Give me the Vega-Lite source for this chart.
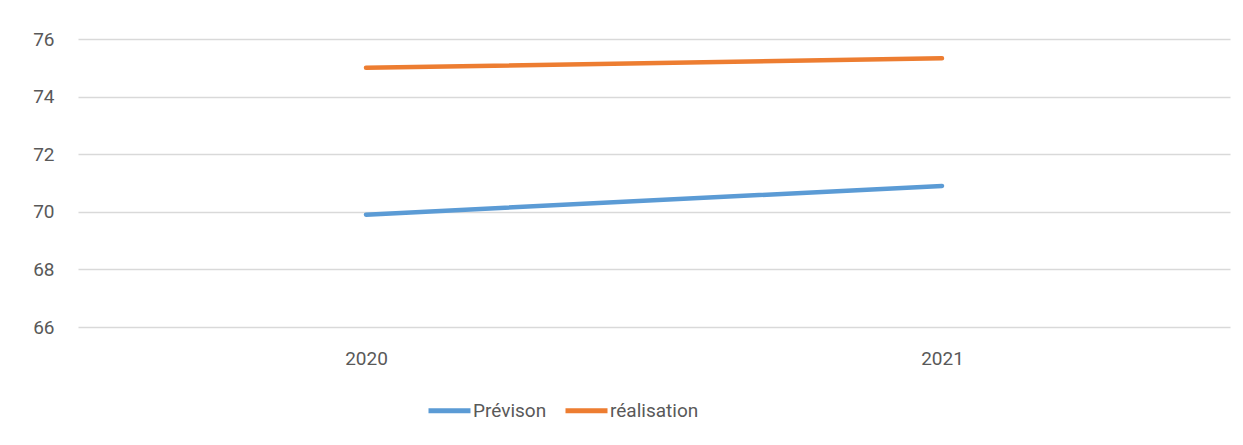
{
  "$schema": "https://vega.github.io/schema/vega-lite/v6.json",
  "autosize": "none",
  "width": 1152,
  "height": 288,
  "padding": {"left": 78, "top": 39, "right": 13, "bottom": 118},
  "background": "#ffffff",
  "config": {
    "view": {"stroke": null},
    "font": "Roboto, sans-serif"
  },
  "data": {
    "values": [
      {"year": "2020", "serie": "Prévison", "value": 69.9},
      {"year": "2021", "serie": "Prévison", "value": 70.9},
      {"year": "2020", "serie": "réalisation", "value": 75.0},
      {"year": "2021", "serie": "réalisation", "value": 75.33}
    ]
  },
  "mark": {"type": "line", "strokeWidth": 4.5, "strokeCap": "round"},
  "encoding": {
    "x": {
      "field": "year",
      "type": "ordinal",
      "scale": {"type": "point", "padding": 0.5},
      "axis": {
        "title": null,
        "labelAngle": 0,
        "domain": false,
        "ticks": false,
        "grid": false,
        "labelFont": "Roboto, sans-serif",
        "labelFontSize": 19,
        "labelColor": "#595959",
        "labelBaseline": "middle",
        "labelPadding": 31
      }
    },
    "y": {
      "field": "value",
      "type": "quantitative",
      "scale": {"domain": [66, 76], "nice": false, "zero": false},
      "axis": {
        "title": null,
        "values": [66, 68, 70, 72, 74, 76],
        "domain": false,
        "ticks": false,
        "grid": true,
        "gridColor": "#d9d9d9",
        "gridWidth": 1.3,
        "labelFont": "Roboto, sans-serif",
        "labelFontSize": 19,
        "labelColor": "#595959",
        "labelPadding": 24,
        "labelBaseline": "middle"
      }
    },
    "color": {
      "field": "serie",
      "type": "nominal",
      "scale": {"domain": ["Prévison", "réalisation"], "range": ["#5b9bd5", "#ed7d31"]},
      "legend": {
        "title": null,
        "orient": "none",
        "direction": "horizontal",
        "legendX": 348,
        "legendY": 348,
        "symbolType": "stroke",
        "symbolSize": 1764,
        "symbolStrokeWidth": 5,
        "labelFont": "Roboto, sans-serif",
        "labelFontSize": 19,
        "labelColor": "#595959",
        "labelOffset": 0,
        "columnPadding": 8,
        "padding": 0
      }
    }
  }
}
